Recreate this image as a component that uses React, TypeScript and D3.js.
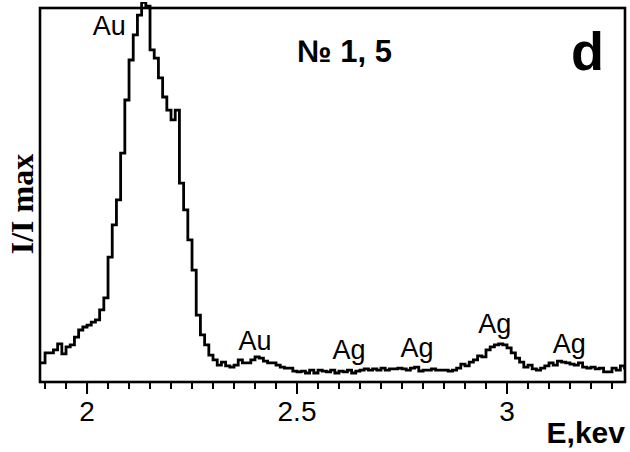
import React from "react";
import * as d3 from "d3";

// Energy bins (keV, bin start) and relative intensity (% of max)
const energyStart = 1.88;
const binWidth = 0.01;
const intensity: number[] = [
  5.1, 5.1, 7.8, 7.8, 8.6, 10.2, 7.5, 9.4, 9.9, 12.0, 13.9, 14.7,
  15.2, 16.0, 16.6, 19.3, 22.5, 33.4, 42.0, 48.7, 61.2, 75.4, 86.1, 92.8,
  98.1, 101.5, 100.5, 88.8, 86.6, 81.3, 76.2, 72.7, 70.1, 72.7, 53.2, 46.0,
  38.0, 29.9, 17.9, 12.6, 9.9, 7.2, 5.9, 4.5, 5.3, 4.3, 4.0, 4.5,
  5.9, 5.1, 5.1, 5.9, 6.7, 6.4, 5.6, 5.1, 5.1, 4.5, 4.0, 3.7,
  3.7, 2.9, 2.7, 2.9, 2.4, 3.2, 2.4, 3.2, 2.9, 2.7, 3.2, 2.4,
  2.9, 2.7, 3.2, 2.4, 2.9, 3.2, 3.5, 3.2, 3.5, 3.2, 3.7, 3.2,
  3.5, 3.5, 3.7, 3.5, 3.2, 3.7, 4.0, 2.9, 3.2, 3.2, 3.5, 3.2,
  3.2, 3.2, 2.9, 3.2, 3.7, 4.8, 4.3, 5.3, 5.9, 7.0, 6.7, 8.6,
  9.4, 9.9, 10.2, 9.9, 9.1, 7.8, 6.4, 5.3, 4.0, 4.5, 3.5, 3.2,
  3.7, 4.3, 5.1, 4.5, 5.6, 5.3, 5.1, 4.8, 4.5, 5.1, 4.0, 3.7,
  4.0, 3.5, 3.7, 2.7, 2.7, 3.7, 3.2, 4.3, 3.7, 3.7,
];

const majorTicks = [2, 2.5, 3];
const majorTickLabels = ["2", "2.5", "3"];
const minorTicks: number[] = d3.range(1.9, 3.27, 0.05).map((v) => +v.toFixed(2));

// Peak annotations: energy (keV) of label centre, intensity at label baseline
const peakLabels = ["Au", "Au", "Ag", "Ag", "Ag", "Ag"];
const peakEnergies = [2.053, 2.4, 2.624, 2.786, 2.971, 3.148];
const peakLevels = [92.8, 8.6, 6.1, 6.7, 13.1, 7.8];

const sampleTitle = "№ 1, 5";
const panelLetter = "d";
const xTitle = "E,kev";
const yTitle = "I/I max";

export default function App() {
  const W = 630;
  const H = 452;
  const left = 40;
  const right = 625;
  const top = 8;
  const bottom = 382;

  const x = d3.scaleLinear().domain([1.888, 3.281]).range([left, right]);
  const y = d3.scaleLinear().domain([0, 100]).range([bottom, top]);

  const pts: [number, number][] = intensity.map((v, i) => [energyStart + i * binWidth, v]);
  pts.push([energyStart + intensity.length * binWidth, intensity[intensity.length - 1]]);

  const line = d3
    .line<[number, number]>()
    .x((d) => x(d[0]))
    .y((d) => y(d[1]))
    .curve(d3.curveStepAfter);

  const sans = "Arial, 'Liberation Sans', sans-serif";
  const serif = "'Times New Roman', 'Liberation Serif', serif";

  return (
    <svg
      width={W}
      height={H}
      style={{ position: "absolute", left: 0, top: 0, background: "#fff" }}
    >
      <defs>
        <clipPath id="plotclip">
          <rect x={left} y={top - 6} width={right - left} height={bottom - top + 6} />
        </clipPath>
      </defs>
      <rect x={0} y={0} width={W} height={H} fill="#fff" />
      <path
        d={line(pts) ?? ""}
        fill="none"
        stroke="#000"
        strokeWidth={2.8}
        clipPath="url(#plotclip)"
      />
      <rect
        x={left}
        y={top}
        width={right - left}
        height={bottom - top}
        fill="none"
        stroke="#000"
        strokeWidth={2.6}
      />
      {minorTicks.map((t) => (
        <line key={"m" + t} x1={x(t)} x2={x(t)} y1={bottom} y2={bottom + 7} stroke="#000" strokeWidth={2} />
      ))}
      {majorTicks.map((t) => (
        <line key={"M" + t} x1={x(t)} x2={x(t)} y1={bottom} y2={bottom + 12} stroke="#000" strokeWidth={2} />
      ))}
      {majorTicks.map((t, i) => (
        <text
          key={"L" + t}
          x={x(t)}
          y={421}
          textAnchor="middle"
          fontFamily={sans}
          fontSize={28}
          fill="#000"
        >
          {majorTickLabels[i]}
        </text>
      ))}
      {peakLabels.map((lab, i) => (
        <text
          key={"p" + i}
          x={x(peakEnergies[i])}
          y={y(peakLevels[i])}
          textAnchor="middle"
          fontFamily={sans}
          fontSize={27}
          fill="#000"
        >
          {lab}
        </text>
      ))}
      <text x={297} y={62} fontFamily={sans} fontWeight="bold" fontSize={31} fill="#000">
        {sampleTitle}
      </text>
      <text x={604} y={70} textAnchor="end" fontFamily={sans} fontWeight="bold" fontSize={54} fill="#000">
        {panelLetter}
      </text>
      <text x={625} y={443} textAnchor="end" fontFamily={sans} fontWeight="bold" fontSize={30} fill="#000">
        {xTitle}
      </text>
      <text
        transform={`translate(33, ${(150 + 258) / 2}) rotate(-90)`}
        textAnchor="middle"
        fontFamily={serif}
        fontWeight="bold"
        fontSize={32}
        fill="#000"
      >
        {yTitle}
      </text>
    </svg>
  );
}
